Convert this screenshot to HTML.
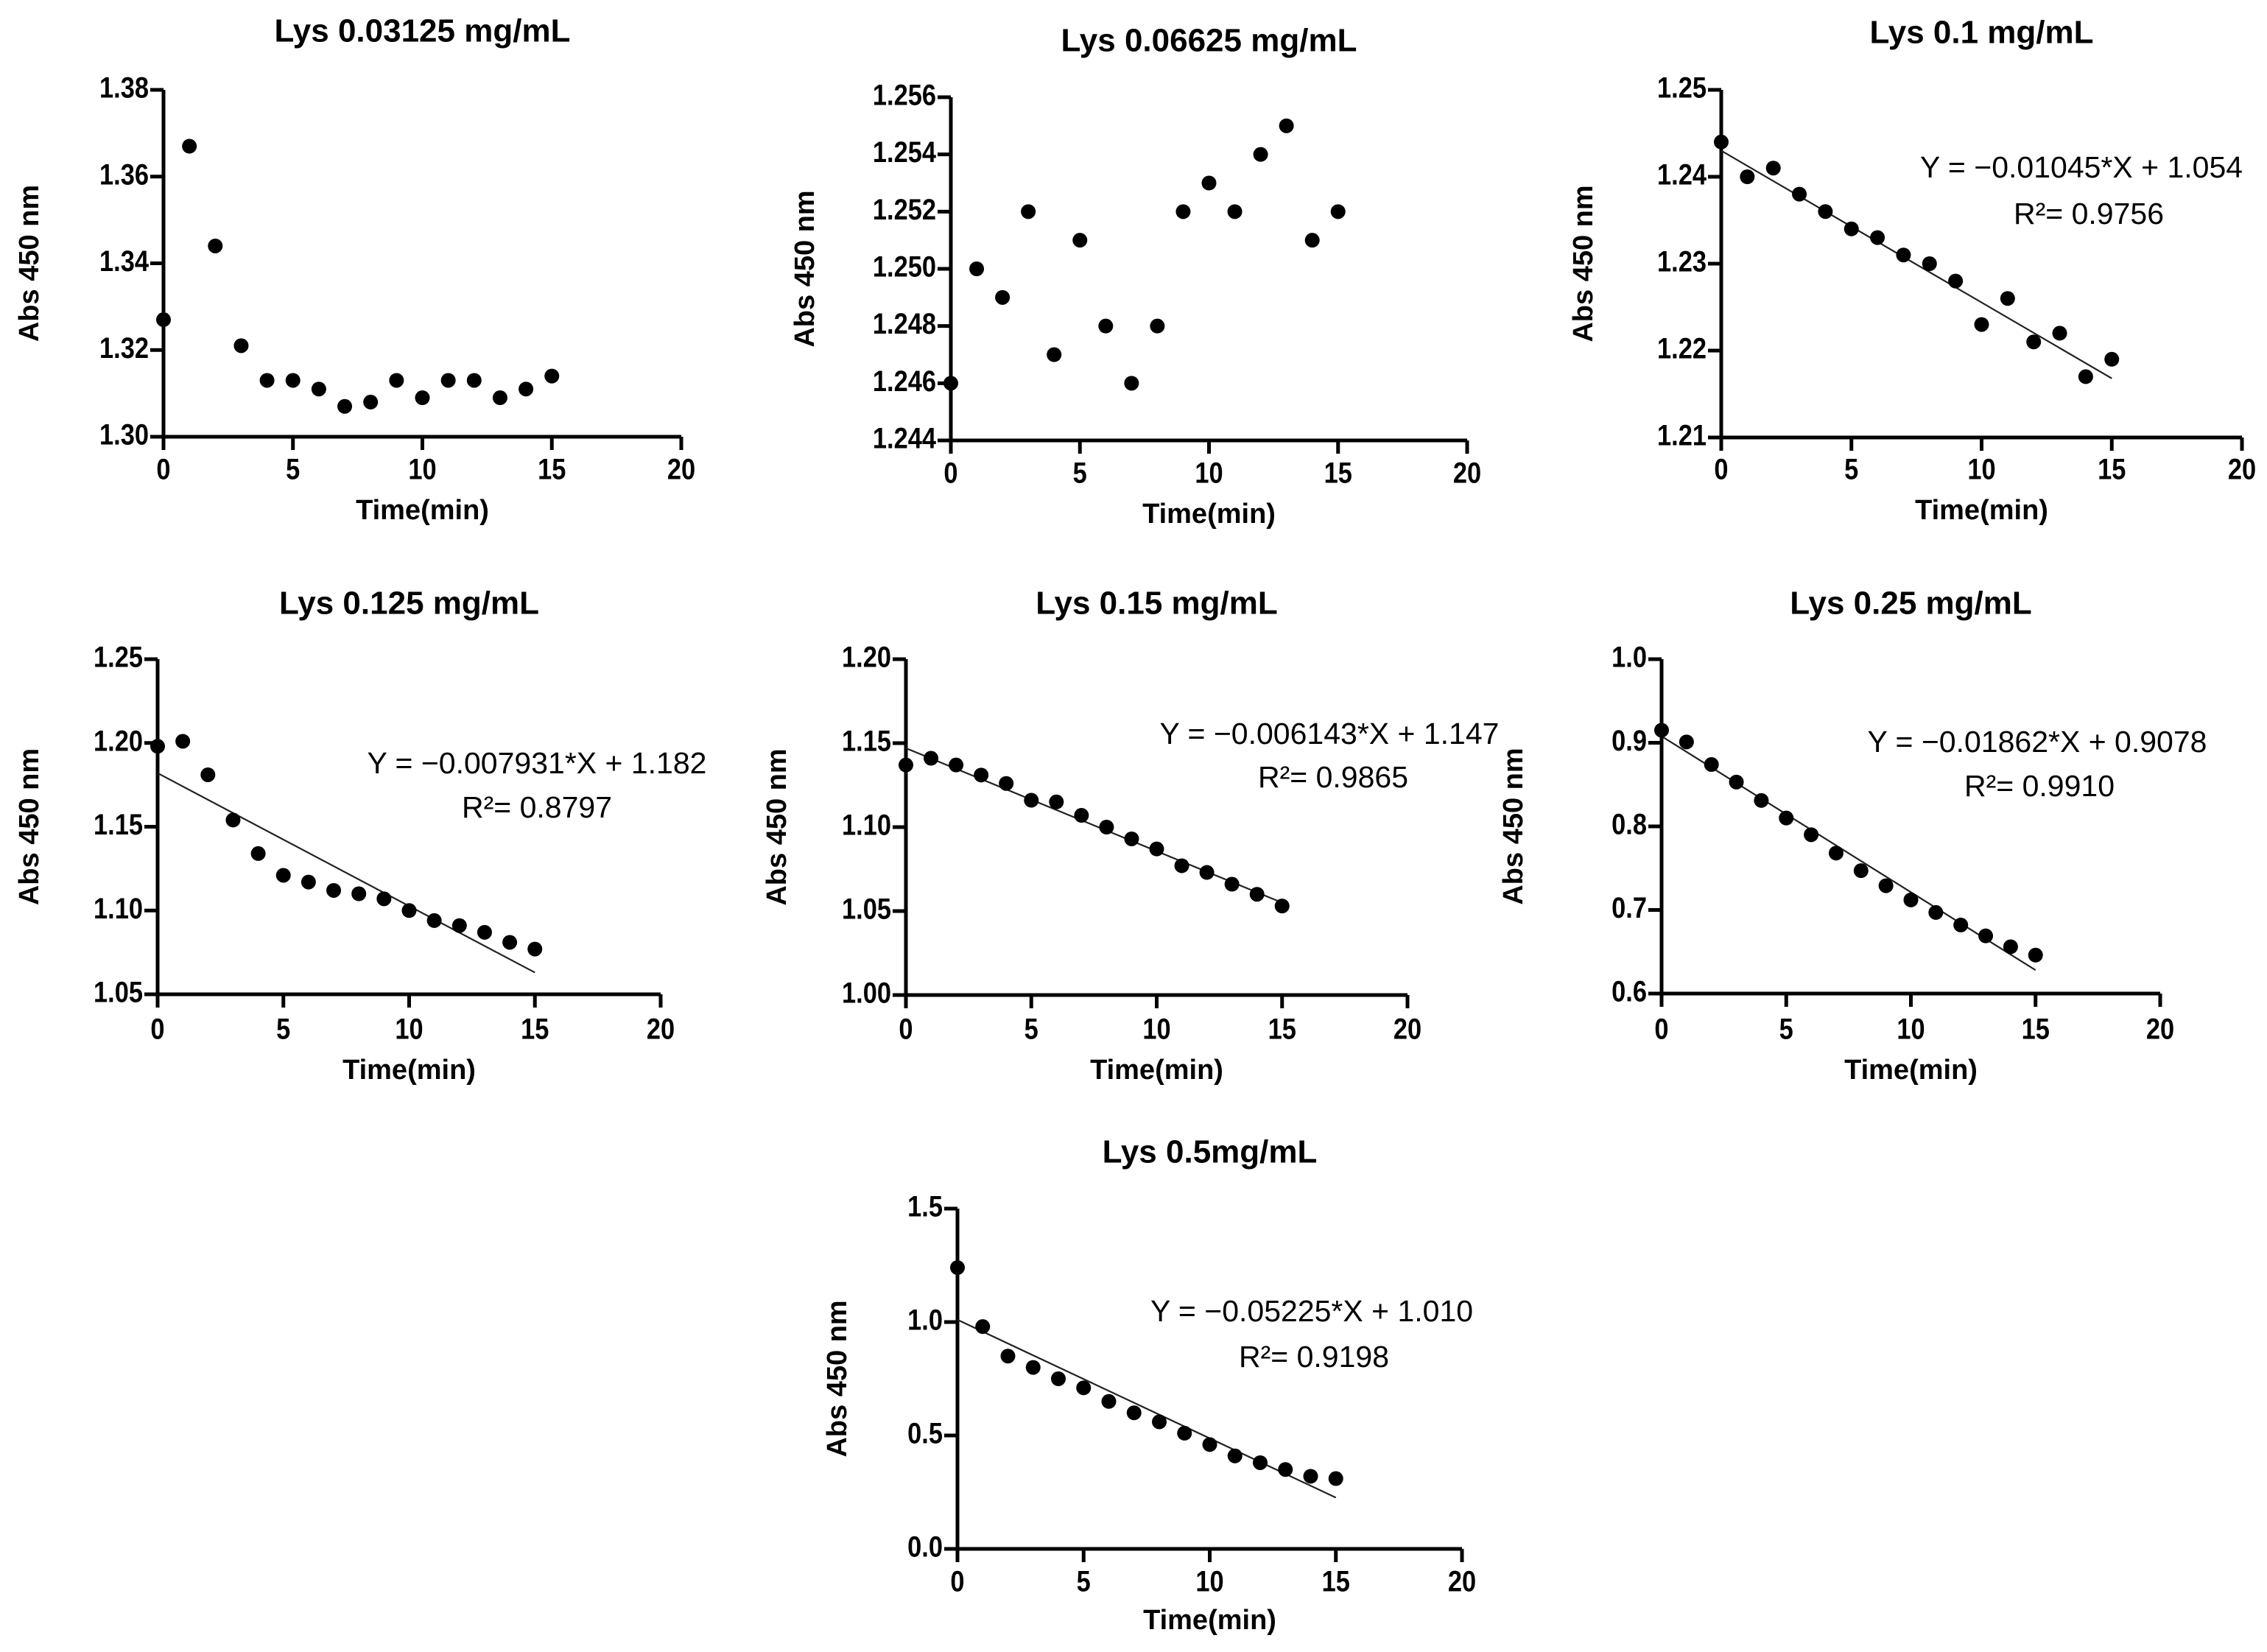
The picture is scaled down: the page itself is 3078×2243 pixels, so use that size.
<!DOCTYPE html>
<html><head><meta charset="utf-8"><title>Lys absorbance panels</title>
<style>
html,body{margin:0;padding:0;background:#fff;}
svg{display:block;}
text{font-family:"Liberation Sans",Arial,sans-serif;fill:#000;}
.tick{font-weight:bold;font-size:40px;}
.title{font-weight:bold;font-size:44px;}
.axl{font-weight:bold;font-size:38px;}
.eq{font-size:41px;}
</style></head>
<body>
<svg id="fig" width="3078" height="2243" viewBox="0 0 3078 2243" xmlns="http://www.w3.org/2000/svg"></svg>
<script>
// ---- data ----
const times = [0,1,2,3,4,5,6,7,8,9,10,11,12,13,14,15];
const xTicks = [0,5,10,15,20];
const titles = ["Lys 0.03125 mg/mL","Lys 0.06625 mg/mL","Lys 0.1 mg/mL","Lys 0.125 mg/mL","Lys 0.15 mg/mL","Lys 0.25 mg/mL","Lys 0.5mg/mL"];
const s1 = [1.327,1.367,1.344,1.321,1.313,1.313,1.311,1.307,1.308,1.313,1.309,1.313,1.313,1.309,1.311,1.314];
const s2 = [1.246,1.250,1.249,1.252,1.247,1.251,1.248,1.246,1.248,1.252,1.253,1.252,1.254,1.255,1.251,1.252];
const s3 = [1.244,1.240,1.241,1.238,1.236,1.234,1.233,1.231,1.230,1.228,1.223,1.226,1.221,1.222,1.217,1.219];
const s4 = [1.198,1.201,1.181,1.154,1.134,1.121,1.117,1.112,1.110,1.107,1.100,1.094,1.091,1.087,1.081,1.077];
const s5 = [1.137,1.141,1.137,1.131,1.126,1.116,1.115,1.107,1.100,1.093,1.087,1.077,1.073,1.066,1.060,1.053];
const s6 = [0.915,0.901,0.874,0.853,0.831,0.810,0.790,0.768,0.747,0.729,0.712,0.697,0.682,0.669,0.656,0.646];
const s7 = [1.24,0.98,0.85,0.80,0.75,0.71,0.65,0.60,0.56,0.51,0.46,0.41,0.38,0.35,0.32,0.31];
const yTicks1 = [1.30,1.32,1.34,1.36,1.38];
const yTicks2 = [1.244,1.246,1.248,1.250,1.252,1.254,1.256];
const yTicks3 = [1.21,1.22,1.23,1.24,1.25];
const yTicks4 = [1.05,1.10,1.15,1.20,1.25];
const yTicks5 = [1.00,1.05,1.10,1.15,1.20];
const yTicks6 = [0.6,0.7,0.8,0.9,1.0];
const yTicks7 = [0.0,0.5,1.0,1.5];
const yDecimals = [2,3,2,2,2,1,1];
// fitted line [value at x=0, value at x=15]
const fit3 = [1.2430,1.2168];
const fit4 = [1.182,1.063];
const fit5 = [1.147,1.055];
const fit6 = [0.9078,0.628];
const fit7 = [1.010,0.226];
const eqText = [null,null,
 ["Y = \u22120.01045*X + 1.054","R\u00b2= 0.9756"],
 ["Y = \u22120.007931*X + 1.182","R\u00b2= 0.8797"],
 ["Y = \u22120.006143*X + 1.147","R\u00b2= 0.9865"],
 ["Y = \u22120.01862*X + 0.9078","R\u00b2= 0.9910"],
 ["Y = \u22120.05225*X + 1.010","R\u00b2= 0.9198"]];

// ---- layout (pixel geometry, not data) ----
const layout = [
 {x0:222,x1:925,yT:122,yB:593,titleY:45,tickY:640,labY:695,ylabX:42,eq:null},
 {x0:1291,x1:1992,yT:132,yB:598,titleY:58,tickY:645,labY:700,ylabX:1095,eq:null},
 {x0:2337,x1:3044,yT:122,yB:594,titleY:47,tickY:640,labY:695,ylabX:2152,eq:[2826,230,2836,293]},
 {x0:214,x1:897,yT:895,yB:1350,titleY:822,tickY:1400,labY:1455,ylabX:42,eq:[729,1039,729,1099]},
 {x0:1230,x1:1911,yT:895,yB:1351,titleY:822,tickY:1400,labY:1455,ylabX:1057,eq:[1805,999,1810,1058]},
 {x0:2256,x1:2933,yT:895,yB:1349,titleY:822,tickY:1400,labY:1455,ylabX:2057,eq:[2766,1010,2769,1070]},
 {x0:1300,x1:1985,yT:1641,yB:2103,titleY:1567,tickY:2150,labY:2202,ylabX:1139,eq:[1781,1783,1784,1845]}
];
const series = [s1,s2,s3,s4,s5,s6,s7];
const yTickSets = [yTicks1,yTicks2,yTicks3,yTicks4,yTicks5,yTicks6,yTicks7];
const fits = [null,null,fit3,fit4,fit5,fit6,fit7];

const NS = "http://www.w3.org/2000/svg";
const svg = document.getElementById('fig');
function mk(tag, attrs, parent){
  const e = document.createElementNS(NS, tag);
  for (const k in attrs) e.setAttribute(k, attrs[k]);
  parent.appendChild(e); return e;
}

layout.forEach((L, i) => {
  const g = mk('g', {}, svg);
  
  
  const yt = yTickSets[i];
  const yMin = yt[0], yMax = yt[yt.length-1];
  const xS = v => L.x0 + (v - 0) / 20 * (L.x1 - L.x0);
  const yS = v => L.yB - (v - yMin) / (yMax - yMin) * (L.yB - L.yT);

  const t = mk('text', {x:(L.x0+L.x1)/2, y:L.titleY, 'text-anchor':'middle', 'dominant-baseline':'middle', class:'title'}, g);
  t.textContent = titles[i];
  
  

  const ax = mk('path', {d:`M${L.x0},${L.yT} V${L.yB} H${L.x1}`, fill:'none', stroke:'#000', 'stroke-width':5}, g);
  
  

  yt.forEach(v => {
    const y = yS(v);
    const tk = mk('line', {x1:L.x0-18, x2:L.x0, y1:y, y2:y, stroke:'#000', 'stroke-width':5}, g);
    
    
    const lb = mk('text', {x:0, y:0, 'text-anchor':'end', 'dominant-baseline':'middle', class:'tick', transform:`translate(${L.x0-20},${y}) scale(0.86,1)`}, g);
    lb.textContent = v.toFixed(yDecimals[i]);
    
    
  });
  xTicks.forEach(v => {
    const x = xS(v);
    const tk = mk('line', {x1:x, x2:x, y1:L.yB, y2:L.yB+18, stroke:'#000', 'stroke-width':5}, g);
    
    
    const lb = mk('text', {x:0, y:0, 'text-anchor':'middle', 'dominant-baseline':'middle', class:'tick', transform:`translate(${x},${L.tickY}) scale(0.86,1)`}, g);
    lb.textContent = String(v);
    
    
  });

  const xl = mk('text', {x:(L.x0+L.x1)/2, y:L.labY, 'text-anchor':'middle', 'dominant-baseline':'middle', class:'axl'}, g);
  xl.textContent = 'Time(min)';
  
  
  const cy = (L.yT+L.yB)/2;
  const yl = mk('text', {x:L.ylabX, y:cy, 'text-anchor':'middle', 'dominant-baseline':'middle', class:'axl', transform:`rotate(-90 ${L.ylabX} ${cy})`}, g);
  yl.textContent = 'Abs 450 nm';
  
  

  const f = fits[i];
  if (f) {
    const ln = mk('line', {x1:xS(times[0]), y1:yS(f[0]), x2:xS(times[times.length-1]), y2:yS(f[1]), stroke:'#222', 'stroke-width':2.2}, g);
    
    
  }

  series[i].forEach((v, k) => {
    const c = mk('circle', {cx:xS(times[k]), cy:yS(v), r:10, fill:'#000'}, g);
    
    
  });

  if (L.eq && eqText[i]) {
    const e1 = mk('text', {x:L.eq[0], y:L.eq[1], 'text-anchor':'middle', 'dominant-baseline':'middle', class:'eq'}, g);
    e1.textContent = eqText[i][0];
    
    
    const e2 = mk('text', {x:L.eq[2], y:L.eq[3], 'text-anchor':'middle', 'dominant-baseline':'middle', class:'eq'}, g);
    e2.textContent = eqText[i][1];
    
    
  }
});
</script>
</body></html>
